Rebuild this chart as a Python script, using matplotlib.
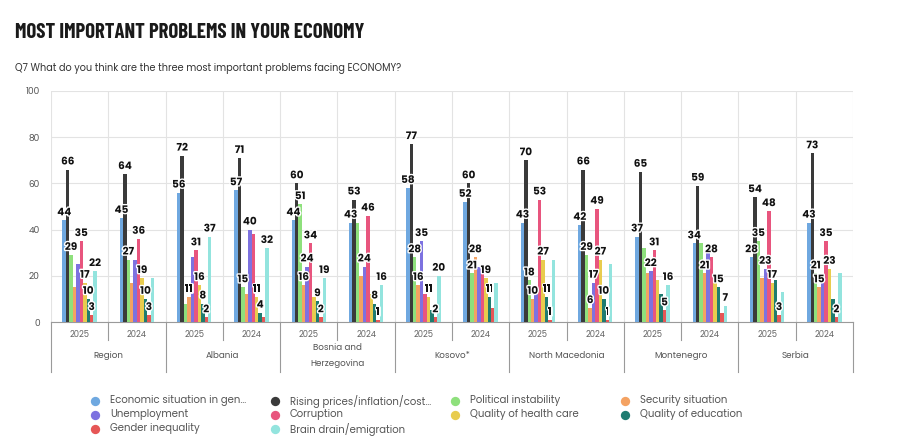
import numpy as np
import matplotlib
matplotlib.use("Agg")
from matplotlib import pyplot as plt
import matplotlib.patheffects as pe
from matplotlib.transforms import blended_transform_factory

plt.rcParams['font.family'] = ['Poppins', 'Open Sans', 'DejaVu Sans']

# Data
series = ["Economic situation in gen\u2026", "Rising prices/inflation/cost\u2026",
          "Political instability", "Security situation", "Unemployment",
          "Corruption", "Quality of health care", "Quality of education",
          "Gender inequality", "Brain drain/emigration"]
colors = ["#6fa8e0", "#3a3a3a", "#8ee07c", "#f4a262", "#7d72e0",
          "#e8557e", "#e8cc4e", "#1f7c70", "#e65656", "#93e4de"]

regions = ["Region", "Albania", "Bosnia and\nHerzegovina", "Kosovo*",
           "North Macedonia", "Montenegro", "Serbia"]
years = ["2025", "2024"]

# one row per region/year, columns in series order
values = [
    [44, 66, 29, 15, 25, 35, 17, 10, 3, 22],   # Region 2025
    [45, 64, 27, 17, 27, 36, 19, 10, 3, 19],   # Region 2024
    [56, 72, 8, 11, 28, 31, 16, 8, 2, 37],     # Albania 2025
    [57, 71, 15, 12, 40, 38, 11, 4, 2, 32],    # Albania 2024
    [44, 60, 51, 16, 24, 34, 11, 9, 2, 19],    # BiH 2025
    [43, 53, 43, 20, 24, 46, 12, 8, 1, 16],    # BiH 2024
    [58, 77, 28, 16, 35, 12, 11, 5, 2, 20],    # Kosovo 2025
    [52, 60, 21, 28, 24, 21, 19, 11, 6, 17],   # Kosovo 2024
    [43, 70, 18, 10, 12, 53, 27, 11, 1, 27],   # N. Macedonia 2025
    [42, 66, 29, 6, 17, 49, 27, 10, 1, 25],    # N. Macedonia 2024
    [37, 65, 32, 21, 22, 31, 18, 12, 5, 16],   # Montenegro 2025
    [34, 59, 34, 21, 30, 28, 18, 15, 4, 7],    # Montenegro 2024
    [28, 54, 35, 19, 23, 48, 17, 18, 3, 13],   # Serbia 2025
    [43, 73, 21, 15, 17, 35, 23, 10, 2, 21],   # Serbia 2024
]
# which bars show a value label (the rest are hidden by overlap in the original)
labelled = [
    [0, 1, 2, 5, 6, 7, 8, 9], [0, 1, 2, 5, 6, 7, 8],
    [0, 1, 3, 5, 6, 7, 8, 9], [0, 1, 2, 4, 6, 7, 9],
    [0, 1, 2, 3, 4, 5, 7, 8, 9], [0, 1, 4, 5, 7, 8, 9],
    [0, 1, 2, 3, 4, 6, 8, 9], [0, 1, 2, 3, 6, 7],
    [0, 1, 2, 3, 5, 6, 7, 8], [0, 1, 2, 3, 4, 5, 6, 7, 8],
    [0, 1, 4, 5, 8, 9], [0, 1, 3, 5, 7, 9],
    [0, 1, 2, 4, 5, 6, 8], [0, 1, 2, 3, 5, 6, 8],
]

vals = np.array(values)
ncat, nser = vals.shape
x = np.arange(ncat)
w = 0.06

fig = plt.figure(figsize=(9, 4.47), dpi=100)
ax = fig.add_axes([51 / 900, 1 - 322 / 447, 802 / 900, 231 / 447])

for j in range(nser):
    xs = x + (j - (nser - 1) / 2) * w
    ax.bar(xs, vals[:, j], width=w, color=colors[j], zorder=3, linewidth=0)

outline = [pe.withStroke(linewidth=2, foreground="white")]
for i in range(ncat):
    for j in labelled[i]:
        xs = x[i] + (j - (nser - 1) / 2) * w
        ax.annotate(str(vals[i, j]), (xs, vals[i, j]), xytext=(0, 1.5),
                    textcoords="offset points", ha="center", va="bottom",
                    fontsize=7.5, fontweight="bold", color="#111111",
                    path_effects=outline, zorder=5)

ax.set_xlim(-0.5, ncat - 0.5)
ax.set_ylim(0, 100)
ax.set_yticks(np.arange(0, 101, 20))
ax.tick_params(axis="y", length=0, labelsize=6.5, labelcolor="#555555", pad=8)
ax.set_xticks([])
ax.grid(axis="y", color="#e3e3e3", lw=0.8, zorder=0)
for b in np.arange(-0.5, ncat, 1):
    ax.axvline(b, color="#e3e3e3", lw=0.8, zorder=0)
for s in ["top", "right", "left"]:
    ax.spines[s].set_visible(False)
ax.spines["bottom"].set_color("#9a9a9a")
ax.spines["bottom"].set_linewidth(0.8)

# category axis below
tr = blended_transform_factory(ax.transData, ax.transAxes)
for i in range(ncat):
    ax.text(x[i], -0.055, years[i % 2], transform=tr, ha="center", va="center",
            fontsize=6, color="#666666")
for b in np.arange(-0.5, ncat, 1):
    long = int(round(b + 0.5)) % 2 == 0
    ax.plot([b, b], [0, -0.215 if long else -0.08], transform=tr,
            color="#9a9a9a", lw=0.8, clip_on=False)
for r, name in enumerate(regions):
    ax.text(2 * r + 0.5, -0.145, name, transform=tr, ha="center", va="center",
            fontsize=6.3, color="#555555", linespacing=1.9)

# titles
fig.text(15 / 900, 1 - 32 / 447, "MOST IMPORTANT PROBLEMS IN YOUR ECONOMY",
         ha="left", va="center", fontsize=15, fontweight="bold", color="#1a1a1a",
         family=["Barlow Condensed", "DejaVu Sans"])
fig.text(15 / 900, 1 - 69 / 447,
         "Q7 What do you think are the three most important problems facing ECONOMY?",
         ha="left", va="center", fontsize=7, color="#333333")

# legend, row-major in series order
col_x = [95, 275, 455, 625]
row_y = [401, 415, 429]
lax = fig.add_axes([0, 0, 1, 1])
lax.set_xlim(0, 900)
lax.set_ylim(447, 0)
lax.axis("off")
for k, name in enumerate(series):
    cx, cy = col_x[k % 4], row_y[k // 4]
    lax.scatter([cx], [cy], s=45, color=colors[k], linewidths=0)
    lax.text(cx + 15, cy, name, ha="left", va="center", fontsize=7.3,
             color="#555555")

fig.savefig("out.png", dpi=100)
